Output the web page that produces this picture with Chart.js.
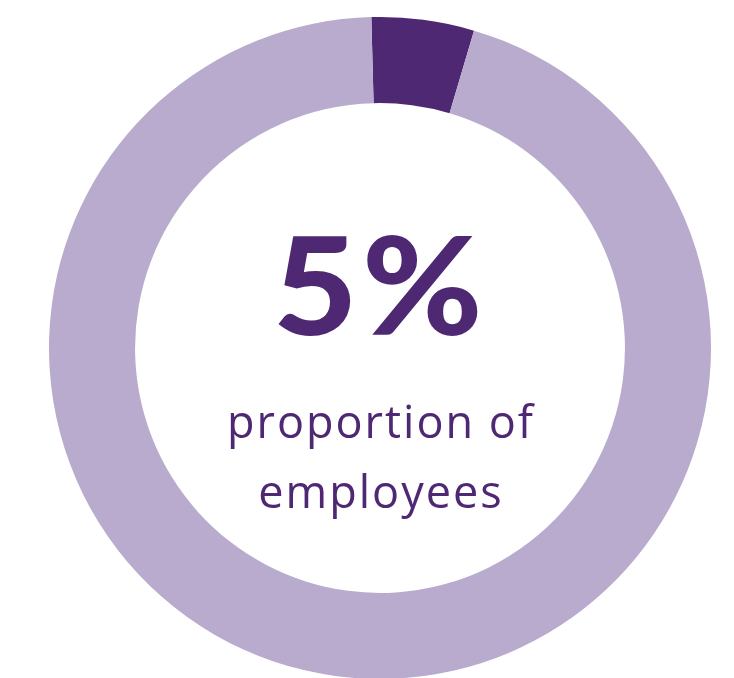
<!DOCTYPE html>
<html>
<head>
<meta charset="utf-8">
<script src="https://cdn.jsdelivr.net/npm/chart.js@4"></script>
<style>
    html, body { margin: 0; padding: 0; background: #ffffff; }
    body { width: 734px; height: 678px; position: relative; overflow: hidden; }
    #wrap { position: absolute; left: 49px; top: 17px; width: 662px; height: 662px; }
</style>
</head>
<body>
<div id="wrap"><canvas id="myChart"></canvas></div>
<script>
const labels = ['Employees', 'Others'];
const shares = [5, 95];
const sliceColors = ['#4f2874', '#b9abcd'];
const headline = '5%';
const captionLines = ['proportion of', 'employees'];

document.addEventListener('DOMContentLoaded', function () {
    buildChart(labels, shares)
})

// writes the big figure and caption in the hole of the ring
const centerText = {
    id: 'centerText',
    afterDraw(chart) {
        const ctx = chart.ctx;
        const arc = chart.getDatasetMeta(0).data[0];
        const cx = arc.x;
        const cy = arc.y;
        ctx.save();
        ctx.fillStyle = '#4f2874';
        ctx.textAlign = 'center';
        ctx.textBaseline = 'alphabetic';

        // headline is a little wider than Lato, so stretch it sideways
        ctx.save();
        ctx.translate(cx, cy - 13);
        ctx.scale(1.08, 1);
        ctx.letterSpacing = '4px';
        ctx.font = '900 135px Lato';
        ctx.fillText(headline, 0, 0);
        ctx.restore();

        ctx.letterSpacing = '2px';
        ctx.font = '400 45px "Open Sans"';
        ctx.fillText(captionLines[0], cx + 1, cy + 90);
        ctx.fillText(captionLines[1], cx + 1, cy + 160);
        ctx.restore();
    }
};

function buildChart(label, data) {
    const ctx = document.getElementById('myChart');
    new Chart(ctx, {
        type: 'doughnut',
        data: {
            labels: label,
            datasets: [{
                data: data,
                backgroundColor: sliceColors,
                borderWidth: 0,
                hoverOffset: 0
            }]
        },
        options: {
            responsive: true,
            maintainAspectRatio: false,
            animation: false,
            cutout: '74%',
            rotation: -1.5,
            layout: { padding: 0 },
            plugins: {
                legend: { display: false },
                tooltip: { enabled: false }
            }
        },
        plugins: [centerText]
    });
}
</script>
</body>
</html>
